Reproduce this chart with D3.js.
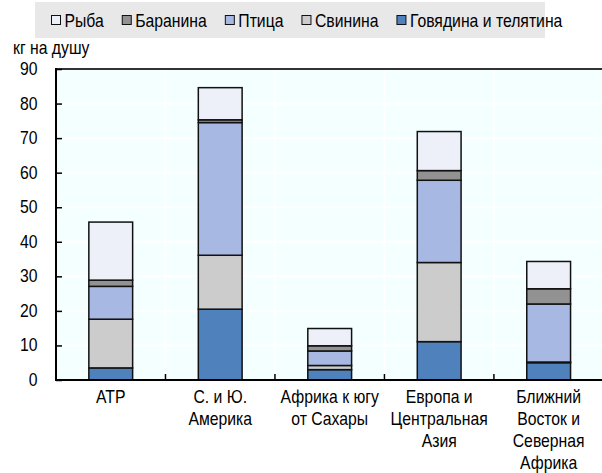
<!DOCTYPE html>
<html>
<head>
<meta charset="utf-8">
<script src="https://cdn.jsdelivr.net/npm/d3@7"></script>
<style>
  body { margin: 0; background: #fff; }
  svg { display: block; font-family: "Liberation Sans", Arial, sans-serif; }
</style>
</head>
<body>
<svg id="chart" width="602" height="473"></svg>
<script>
const regions = [
  ['АТР'],
  ['С. и Ю.', 'Америка'],
  ['Африка к югу', 'от Сахары'],
  ['Европа и', 'Центральная', 'Азия'],
  ['Ближний', 'Восток и', 'Северная', 'Африка']
];
const beef = [3.5, 20.5, 3.0, 11.1, 5.0];
const pork = [14.1, 15.6, 1.2, 22.9, 0.2];
const poultry = [9.5, 38.4, 4.2, 23.8, 16.8];
const mutton = [1.8, 0.8, 1.5, 2.8, 4.4];
const fish = [16.8, 9.3, 5.0, 11.3, 7.9];
const yTicks = [0, 10, 20, 30, 40, 50, 60, 70, 80, 90];

const seriesNames = ['Говядина и телятина', 'Свинина', 'Птица', 'Баранина', 'Рыба'];
const seriesColors = ['#4f81bd', '#cccccc', '#a7b9e3', '#929292', '#edf0f8'];
const legendOrder = [4, 3, 2, 1, 0];

const svg = d3.select('#chart');
const margin = { left: 56, right: 602, top: 69, bottom: 380 };
const fontSize = 19;
const narrow = 0.83; // the reference uses a condensed face

// text squeezed horizontally to mimic a narrow font
function label(parent, x, y, str, anchor) {
  const g = parent.append('g')
    .attr('transform', `translate(${x},${y}) scale(${narrow},1)`);
  const t = g.append('text')
    .attr('font-size', fontSize)
    .attr('text-anchor', anchor || 'start')
    .attr('fill', '#000')
    .text(str);
  return t.node().getComputedTextLength() * narrow;
}

// stack the values per region
const rows = regions.map((r, i) => ({
  key: i,
  values: [beef[i], pork[i], poultry[i], mutton[i], fish[i]]
}));
const stack = d3.stack()
  .keys([0, 1, 2, 3, 4])
  .value((d, k) => d.values[k]);
const stacked = stack(rows);

const x = d3.scaleBand()
  .domain(rows.map(d => d.key))
  .range([margin.left, 603.4]);
const y = d3.scaleLinear()
  .domain([0, 90])
  .range([margin.bottom, margin.top]);

// plot background
svg.append('rect')
  .attr('x', margin.left)
  .attr('y', margin.top)
  .attr('width', margin.right - margin.left)
  .attr('height', margin.bottom - margin.top)
  .attr('fill', '#f4ffff');

// grid lines
const grid = svg.append('g');
grid.selectAll('.hgrid')
  .data(yTicks.slice(1, -1))
  .enter()
  .append('line')
  .attr('x1', margin.left)
  .attr('x2', margin.right)
  .attr('y1', d => y(d))
  .attr('y2', d => y(d))
  .attr('stroke', '#fff')
  .attr('stroke-width', 2);
grid.selectAll('.vgrid')
  .data(rows.slice(1))
  .enter()
  .append('line')
  .attr('x1', d => x(d.key))
  .attr('x2', d => x(d.key))
  .attr('y1', margin.top)
  .attr('y2', margin.bottom)
  .attr('stroke', '#fff')
  .attr('stroke-width', 2);

// bars
const barW = x.bandwidth() * 0.4;
svg.append('g')
  .selectAll('g')
  .data(stacked)
  .enter()
  .append('g')
  .attr('fill', d => seriesColors[d.key])
  .selectAll('rect')
  .data(d => d)
  .enter()
  .append('rect')
  .attr('x', d => x(d.data.key) + (x.bandwidth() - barW) / 2)
  .attr('y', d => y(d[1]))
  .attr('width', barW)
  .attr('height', d => y(d[0]) - y(d[1]))
  .attr('stroke', '#111')
  .attr('stroke-width', 1.5);

// top border
svg.append('line')
  .attr('x1', margin.left)
  .attr('x2', margin.right)
  .attr('y1', margin.top)
  .attr('y2', margin.top)
  .attr('stroke', '#333')
  .attr('stroke-width', 2);

// y axis
const yAxis = svg.append('g')
  .attr('transform', `translate(${margin.left},0)`)
  .call(d3.axisRight(y).tickValues(yTicks).tickSize(6).tickFormat(''));
yAxis.select('.domain').remove();
yAxis.selectAll('line').attr('stroke', '#000').attr('stroke-width', 1.5);
svg.append('line')
  .attr('x1', margin.left)
  .attr('x2', margin.left)
  .attr('y1', margin.top - 1)
  .attr('y2', margin.bottom + 1)
  .attr('stroke', '#000')
  .attr('stroke-width', 2);
const yLabels = svg.append('g');
yTicks.forEach(d => label(yLabels, 37.5, y(d) + 6, d, 'end'));

// x axis
svg.append('g')
  .selectAll('line')
  .data(rows.slice(1))
  .enter()
  .append('line')
  .attr('x1', d => x(d.key))
  .attr('x2', d => x(d.key))
  .attr('y1', margin.bottom)
  .attr('y2', margin.bottom - 6)
  .attr('stroke', '#000')
  .attr('stroke-width', 1.5);
svg.append('line')
  .attr('x1', margin.left - 1)
  .attr('x2', 602)
  .attr('y1', margin.bottom)
  .attr('y2', margin.bottom)
  .attr('stroke', '#000')
  .attr('stroke-width', 2);

const xLabels = svg.append('g');
rows.forEach(d => {
  regions[d.key].forEach((line, i) => {
    label(xLabels, x(d.key) + x.bandwidth() / 2, 403 + i * 22, line, 'middle');
  });
});

// y label
label(svg, 13, 54, 'кг на душу');

// legend
svg.append('rect')
  .attr('x', 35)
  .attr('y', 2)
  .attr('width', 510)
  .attr('height', 36)
  .attr('fill', '#e8e8e8');
const legend = svg.append('g');
let lx = 51;
legendOrder.forEach(k => {
  legend.append('rect')
    .attr('x', lx + 0.5)
    .attr('y', 15.5)
    .attr('width', 9)
    .attr('height', 9)
    .attr('fill', seriesColors[k])
    .attr('stroke', '#111')
    .attr('stroke-width', 1);
  const w = label(legend, lx + 13.5, 27, seriesNames[k]);
  lx += 13.5 + w + 18;
});
</script>
</body>
</html>
